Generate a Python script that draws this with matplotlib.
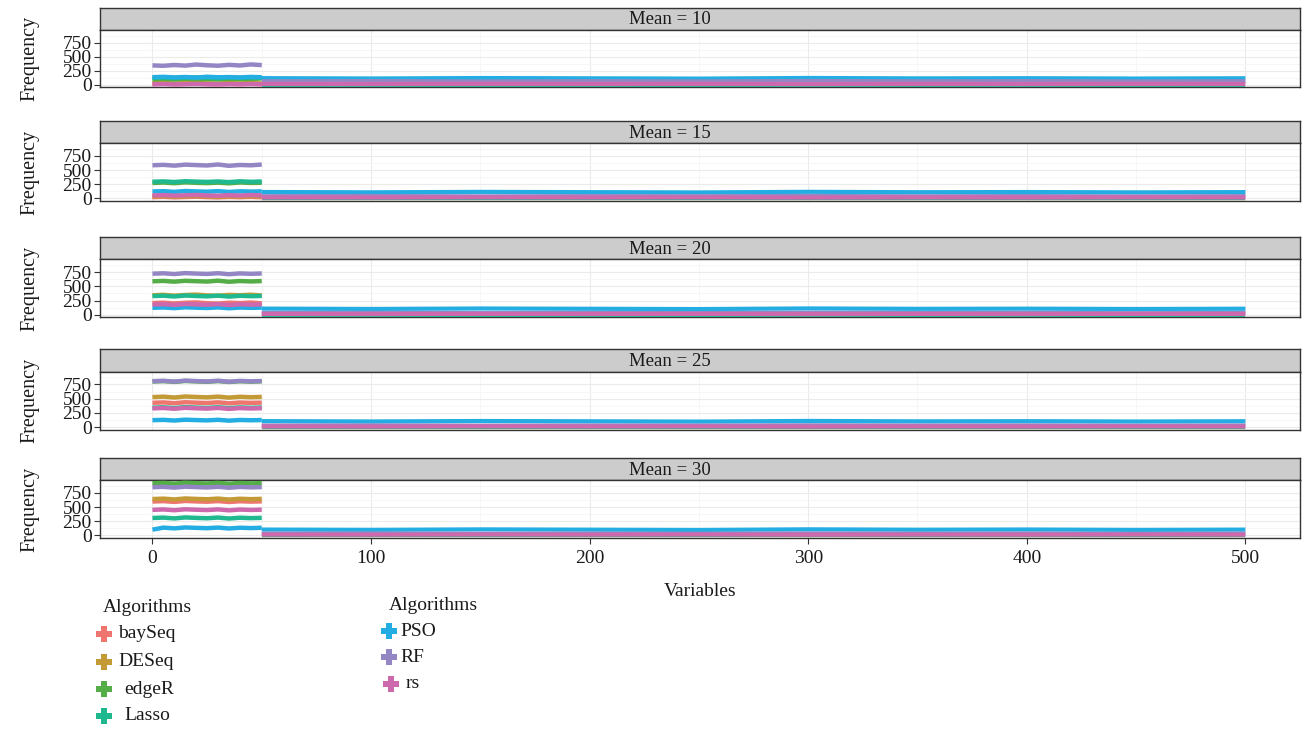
import matplotlib
matplotlib.use("Agg")
import matplotlib.pyplot as plt

plt.rcParams['font.family'] = ['Liberation Serif', 'DejaVu Serif']

# ---------------- data ----------------
algorithms = ["baySeq", "DESeq", "edgeR", "Lasso", "PSO", "RF", "rs"]
colors = ["#EE766E", "#C39A35", "#55AD47", "#20B98F", "#24ADE2", "#9486C5", "#CF69AD"]
panel_means = [10, 15, 20, 25, 30]

x_head = [0, 5, 10, 15, 20, 25, 30, 35, 40, 45, 50]
x_tail = [50, 100, 150, 200, 250, 300, 350, 400, 450, 500]

x_ticks = [0, 100, 200, 300, 400, 500]
y_ticks = [0, 250, 500, 750]

zero_tail = [0, 0, 0, 0, 0, 0, 0, 0, 0, 0]

head_10 = [
    [14, 20, 11, 17, 22, 15, 10, 18, 13, 19, 12],
    [26, 31, 22, 28, 34, 25, 21, 29, 24, 30, 23],
    [98, 104, 95, 107, 99, 102, 96, 105, 100, 103, 112],
    [122, 128, 119, 126, 131, 124, 118, 129, 123, 127, 126],
    [135, 141, 132, 138, 128, 143, 133, 137, 131, 140, 134],
    [345, 338, 352, 341, 360, 347, 339, 355, 343, 362, 350],
    [8, 12, 6, 10, 14, 9, 7, 11, 8, 13, 9],
]
tail_10 = [
    zero_tail, zero_tail, zero_tail, zero_tail,
    [118, 112, 120, 115, 110, 121, 114, 117, 111, 116],
    [62, 66, 58, 64, 60, 67, 61, 65, 59, 63],
    [14, 12, 16, 13, 15, 11, 14, 12, 15, 13],
]

head_15 = [
    [18, 24, 15, 21, 26, 19, 14, 22, 17, 23, 16],
    [32, 37, 28, 34, 40, 31, 27, 35, 30, 36, 29],
    [270, 278, 266, 281, 273, 268, 276, 264, 279, 271, 274],
    [292, 298, 287, 301, 294, 289, 297, 285, 300, 291, 296],
    [118, 124, 112, 127, 120, 115, 125, 110, 122, 117, 121],
    [585, 592, 578, 596, 588, 581, 599, 575, 590, 584, 598],
    [48, 54, 44, 51, 57, 47, 43, 53, 46, 55, 49],
]
tail_15 = [
    zero_tail, zero_tail, zero_tail, zero_tail,
    [110, 104, 112, 107, 102, 113, 106, 109, 103, 108],
    [35, 38, 32, 36, 34, 39, 33, 37, 31, 36],
    [13, 11, 15, 12, 14, 10, 13, 11, 14, 12],
]

head_20 = [
    [205, 212, 198, 209, 216, 202, 196, 211, 204, 214, 200],
    [342, 350, 336, 347, 354, 340, 334, 349, 343, 352, 338],
    [588, 595, 582, 597, 590, 584, 599, 580, 593, 586, 592],
    [328, 335, 321, 338, 330, 324, 336, 319, 333, 327, 331],
    [122, 128, 116, 131, 124, 119, 129, 114, 126, 121, 125],
    [722, 729, 716, 732, 724, 718, 730, 713, 727, 720, 726],
    [180, 186, 173, 189, 182, 176, 187, 171, 184, 178, 183],
]
tail_20 = [
    zero_tail, zero_tail, zero_tail, zero_tail,
    [108, 102, 110, 105, 100, 111, 104, 107, 101, 106],
    [30, 33, 28, 31, 29, 34, 30, 32, 27, 31],
    [14, 12, 16, 13, 15, 11, 14, 12, 15, 13],
]

head_25 = [
    [428, 435, 421, 438, 430, 424, 436, 419, 433, 427, 431],
    [528, 536, 521, 539, 531, 524, 537, 519, 534, 526, 532],
    [802, 809, 796, 812, 804, 798, 810, 794, 807, 800, 806],
    [342, 349, 336, 352, 344, 338, 350, 334, 347, 340, 346],
    [122, 128, 116, 131, 124, 119, 129, 114, 126, 121, 125],
    [808, 815, 801, 818, 810, 803, 816, 799, 813, 806, 811],
    [330, 337, 323, 340, 332, 326, 338, 321, 335, 328, 333],
]
tail_25 = [
    zero_tail, zero_tail, zero_tail, zero_tail,
    [106, 100, 108, 103, 98, 109, 102, 105, 99, 104],
    [28, 31, 26, 29, 27, 32, 28, 30, 25, 29],
    [12, 10, 14, 11, 13, 9, 12, 10, 13, 11],
]

head_30 = [
    [598, 605, 591, 608, 600, 594, 606, 589, 603, 596, 601],
    [642, 649, 635, 652, 644, 638, 650, 633, 647, 640, 645],
    [922, 929, 915, 932, 924, 918, 930, 913, 927, 920, 925],
    [305, 312, 298, 315, 307, 301, 313, 296, 310, 303, 308],
    [98, 134, 121, 137, 130, 124, 135, 119, 132, 126, 131],
    [852, 859, 845, 862, 854, 848, 860, 843, 857, 850, 855],
    [450, 457, 443, 460, 452, 446, 458, 441, 455, 448, 453],
]
tail_30 = [
    zero_tail, zero_tail, zero_tail, zero_tail,
    [100, 95, 103, 98, 93, 104, 97, 101, 94, 99],
    [26, 29, 24, 27, 25, 30, 26, 28, 23, 27],
    [10, 8, 12, 9, 11, 7, 10, 8, 11, 9],
]

heads = [head_10, head_15, head_20, head_25, head_30]
tails = [tail_10, tail_15, tail_20, tail_25, tail_30]

# ---------------- layout ----------------
W, H = 1306, 734
fig = plt.figure(figsize=(W / 100, H / 100), dpi=100)
fig.patch.set_facecolor("white")


def rect(left, top, right, bottom):
    return [left / W, 1 - bottom / H, (right - left) / W, (bottom - top) / H]


# (strip_top, strip_bottom / plot_top, plot_bottom)
panel_px = [(7.5, 30.0, 87.3), (121.0, 143.3, 200.7), (236.7, 259.3, 317.3),
            (349.3, 371.7, 429.7), (458.3, 480.3, 537.7)]
LEFT, RIGHT = 100, 1300
STRIP_TEXT_X = 670
border = "#333333"
txt = "#1A1A1A"

for i, (st, sb, pb) in enumerate(panel_px):
    # strip
    sax = fig.add_axes(rect(LEFT, st, RIGHT, sb))
    sax.set_facecolor("#CCCCCC")
    sax.set_xticks([])
    sax.set_yticks([])
    for sp in sax.spines.values():
        sp.set_color(border)
        sp.set_linewidth(1.0)
    sax.text((STRIP_TEXT_X - LEFT) / (RIGHT - LEFT), 0.45, f"Mean = {panel_means[i]}",
             ha="center", va="center", fontsize=13.5, color=txt, transform=sax.transAxes)

    ax = fig.add_axes(rect(LEFT, sb, RIGHT, pb))
    ax.set_xlim(-24, 525)
    ax.set_ylim(-45, 975)
    ax.set_xticks(x_ticks)
    ax.set_xticks([50, 150, 250, 350, 450], minor=True)
    ax.set_yticks(y_ticks)
    ax.set_yticks([125, 375, 625, 875], minor=True)
    ax.grid(True, which="major", color="#EBEBEB", linewidth=0.8)
    ax.grid(True, which="minor", color="#F3F3F3", linewidth=0.5)
    ax.set_axisbelow(True)
    ax.set_yticklabels([str(v) for v in y_ticks], fontsize=14, color=txt)
    ax.tick_params(axis="y", which="major", length=4, width=0.8, color=border, pad=2)
    ax.tick_params(which="minor", length=0)
    if i < 4:
        ax.tick_params(axis="x", which="major", length=0, labelbottom=False)
    else:
        ax.set_xticklabels([str(v) for v in x_ticks], fontsize=14, color=txt)
        ax.tick_params(axis="x", which="major", length=4, width=0.8, color=border, pad=5)
        ax.set_xlabel("Variables", fontsize=14, color=txt)
        ax.xaxis.set_label_coords(0.5, -(592 - pb) / (pb - sb))
        ax.xaxis.label.set_va("center")
    for sp in ax.spines.values():
        sp.set_color(border)
        sp.set_linewidth(1.0)
    ax.set_ylabel("Frequency", fontsize=14.5, color=txt)
    ax.yaxis.set_label_coords((30 - LEFT) / (RIGHT - LEFT), 0.5)
    ax.yaxis.label.set_va("center")

    for k, alg in enumerate(algorithms):
        ax.plot(x_head, heads[i][k], color=colors[k], lw=3.2,
                solid_joinstyle="round", solid_capstyle="butt", zorder=3 + k)
        ax.plot(x_tail, tails[i][k], color=colors[k], lw=3.0,
                solid_joinstyle="round", solid_capstyle="butt", zorder=3 + k)

# ---------------- legends ----------------
lax = fig.add_axes([0, 0, 1, 1])
lax.set_xlim(0, W)
lax.set_ylim(H, 0)
lax.axis("off")

lax.text(103, 607, "Algorithms", fontsize=14, va="center", ha="left", color=txt)
leg1 = [(104, 634, 118, 0), (104, 662, 118, 1), (104, 689, 124, 2), (104, 716, 124, 3)]
for mx, my, tx, k in leg1:
    lax.plot([mx], [my], marker="P", markersize=12, color=colors[k], markeredgewidth=0)
    lax.text(tx, my, algorithms[k], fontsize=14, va="center", ha="left", color=txt)

lax.text(389, 606, "Algorithms", fontsize=14, va="center", ha="left", color=txt)
leg2 = [(389, 631, 400, 4), (389, 657, 400, 5), (391, 684, 406, 6)]
for mx, my, tx, k in leg2:
    lax.plot([mx], [my], marker="P", markersize=12, color=colors[k], markeredgewidth=0)
    lax.text(tx, my, algorithms[k], fontsize=14, va="center", ha="left", color=txt)

fig.savefig("out.png", dpi=100)
